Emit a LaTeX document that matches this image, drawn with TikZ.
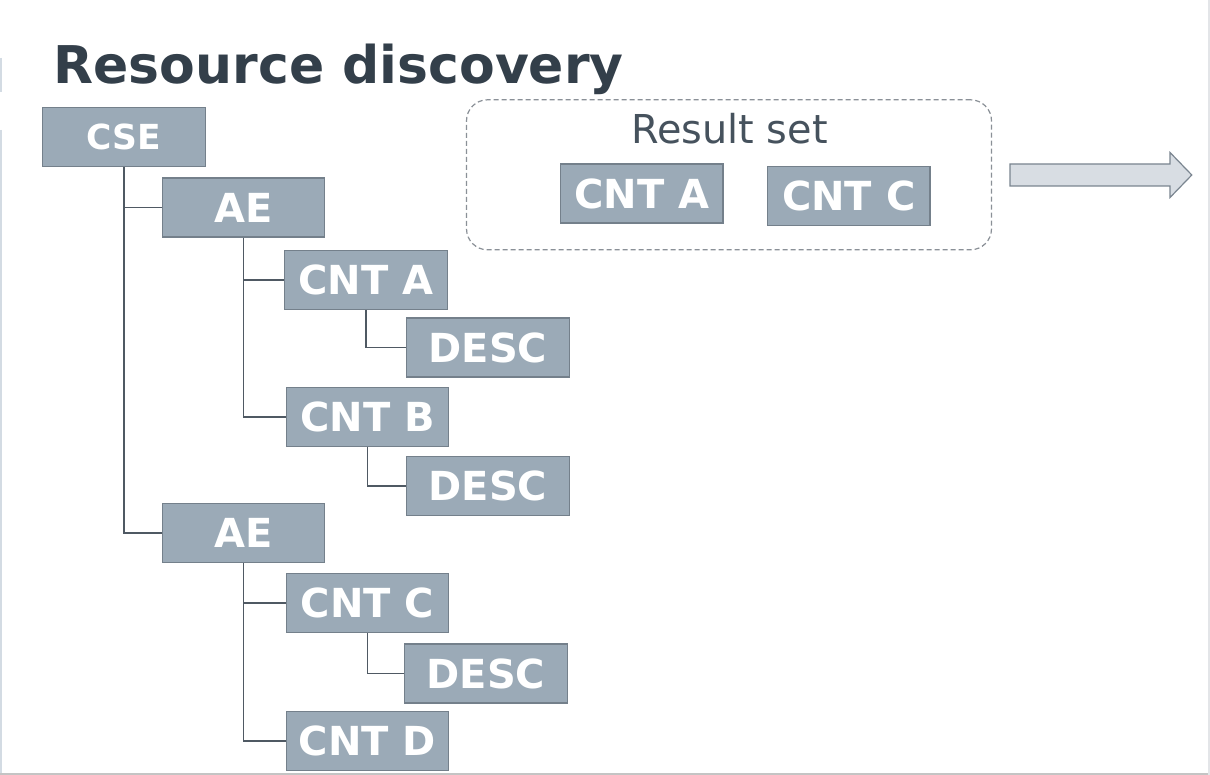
\documentclass[tikz,border=0pt]{standalone}
\usepackage{fontspec}
\setmainfont{DejaVu Sans}
\usetikzlibrary{positioning}
\definecolor{boxfill}{HTML}{9BAAB7}
\definecolor{boxdraw}{HTML}{74808B}
\definecolor{linec}{HTML}{4F5963}
\definecolor{titlec}{HTML}{333F4A}
\definecolor{rsetc}{HTML}{46525D}
\definecolor{dashc}{HTML}{8A9097}
\definecolor{arrfill}{HTML}{D8DDE3}
\definecolor{arrdraw}{HTML}{7A8590}
\definecolor{framel}{HTML}{D3DBE3}
\definecolor{frameb}{HTML}{C4C4C4}
\tikzset{
  res/.style={draw=boxdraw, line width=1.2pt, fill=boxfill, text=white,
    minimum width=162.5pt, minimum height=59pt, inner sep=0pt,
    font=\fontsize{40}{48}\selectfont\bfseries},
  smallres/.style={res, font=\fontsize{34.5}{40}\selectfont\bfseries},
  link/.style={draw=linec, line width=1.8pt},
}
\begin{document}
\begin{tikzpicture}[x=1pt,y=-1pt]
\useasboundingbox (0,0) rectangle (1210,775);
\fill[white] (0,0) rectangle (1210,775);
% frame lines
\draw[framel, line width=1.5pt] (0.75,58) -- (0.75,92);
\draw[framel, line width=1.5pt] (0.75,130) -- (0.75,775);
\draw[frameb, line width=2pt] (0,773.8) -- (1210,773.8);
\draw[framel!70!gray!40, line width=1.5pt] (1208.8,0) -- (1208.8,775);
% title
\node[anchor=base west, inner sep=0pt, text=titlec, font=\fontsize{52}{60}\selectfont\bfseries] (title) at (53.5,83.3) {Resource discovery};
% tree
\node[smallres] (cse) at (124,137) {CSE};
\node[res] (ae1) at (243.5,207.5) {AE};
\node[res] (cnta) at (366,280) {CNT A};
\node[res] (desc1) at (488,347.5) {DESC};
\node[res] (cntb) at (367.5,416.8) {CNT B};
\node[res] (desc2) at (488,486.3) {DESC};
\node[res] (ae2) at (243.5,533.3) {AE};
\node[res] (cntc) at (367.5,603) {CNT C};
\node[res] (desc3) at (486,673.5) {DESC};
\node[res] (cntd) at (367.5,741.2) {CNT D};
\draw[link] (cse.south) |- (ae1.west);
\draw[link] (cse.south) |- (ae2.west);
\draw[link] (ae1.south) |- (cnta.west);
\draw[link] (ae1.south) |- (cntb.west);
\draw[link] (cnta.south) |- (desc1.west);
\draw[link] (cntb.south) |- (desc2.west);
\draw[link] (ae2.south) |- (cntc.west);
\draw[link] (ae2.south) |- (cntd.west);
\draw[link] (cntc.south) |- (desc3.west);
% result set
\node[draw=dashc, line width=1.2pt, dash pattern=on 5pt off 3pt, rounded corners=21pt,
  minimum width=525pt, minimum height=150pt, inner sep=0pt] (rset) at (729,174.8) {};
\node[anchor=base, inner sep=0pt, text=rsetc, font=\fontsize{39.8}{46}\selectfont] (rsetlabel) at (729.5,143.5) {Result set};
\node[res] (ra) at (641.8,193.5) {CNT A};
\node[res] (rc) at (848.8,195.7) {CNT C};
% block arrow
\draw[arrdraw, fill=arrfill, line width=1.2pt, line join=miter]
  (1010,164) -- (1170,164) -- (1170,152.5) -- (1191.8,175) -- (1170,197.5) -- (1170,186) -- (1010,186) -- cycle;
\end{tikzpicture}
\end{document}
